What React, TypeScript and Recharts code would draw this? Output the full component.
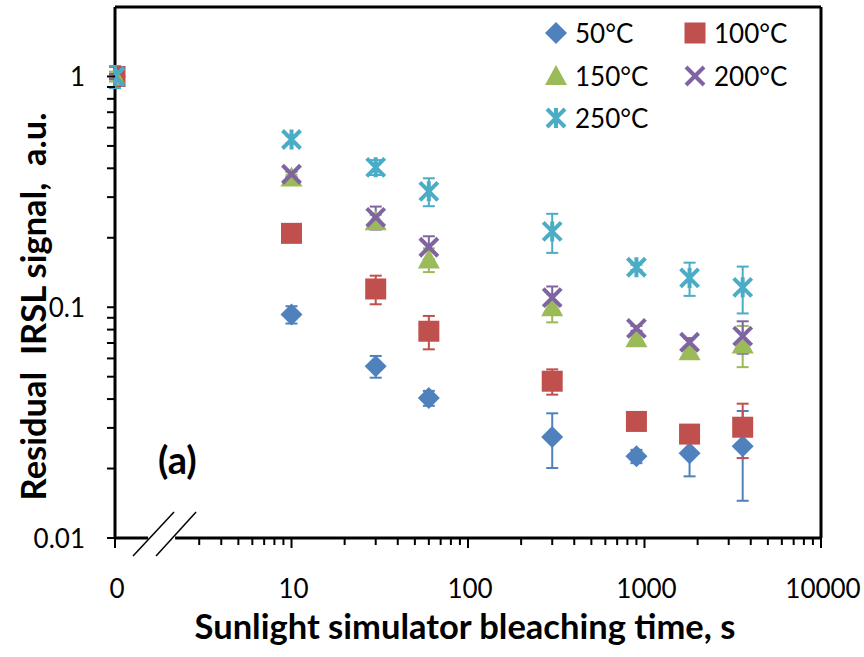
import { ErrorBar, ReferenceLine, Scatter, ScatterChart, XAxis, YAxis } from 'recharts';

const FONT = 'Lato, "Open Sans", sans-serif';

// bleaching times in seconds; t = 0 is drawn at the left end of the log axis
const TIMES = [0, 10, 30, 60, 300, 900, 1800, 3600];
const X_ORIGIN = 1;

const SIG_50 = [1, 0.093, 0.0555, 0.0404, 0.0274, 0.0226, 0.0233, 0.025];
const ERR_50 = [0.02, 0.008, 0.006, 0.003, 0.0073, 0.0015, 0.0048, 0.0105];
const SIG_100 = [1, 0.209, 0.12, 0.0787, 0.0478, 0.032, 0.0282, 0.0302];
const ERR_100 = [0.03, 0.004, 0.017, 0.013, 0.006, 0.001, 0.001, 0.008];
const SIG_150 = [1, 0.365, 0.236, 0.161, 0.1, 0.0734, 0.0645, 0.069];
const ERR_150 = [0.05, 0.01, 0.015, 0.019, 0.014, 0.002, 0.002, 0.014];
const SIG_200 = [1, 0.377, 0.245, 0.182, 0.11, 0.081, 0.0705, 0.0749];
const ERR_200 = [0.1, 0.01, 0.028, 0.021, 0.013, 0.002, 0.003, 0.012];
const SIG_250 = [1, 0.533, 0.404, 0.318, 0.213, 0.149, 0.134, 0.122];
const ERR_250 = [0.11, 0.02, 0.03, 0.044, 0.041, 0.004, 0.022, 0.028];

const X_MAJOR = [1, 10, 100, 1000, 10000];
const X_LABELS = ['0', '10', '100', '1000', '10000'];
const Y_MAJOR = [0.01, 0.1, 1];
const Y_LABELS = ['0.01', '0.1', '1'];

// minor ticks; the "2" tick on x is hidden by the axis break
const X_MINOR: number[] = [];
[1, 10, 100, 1000].forEach((d) => {
  for (let k = 2; k <= 9; k++) if (!(d === 1 && k === 2)) X_MINOR.push(d * k);
});
const Y_MINOR: number[] = [];
[0.01, 0.1].forEach((d) => {
  for (let k = 2; k <= 9; k++) Y_MINOR.push(+(d * k).toFixed(3));
});

type Kind = 'diamond' | 'square' | 'triangle' | 'x' | 'star';

const SERIES: { name: string; color: string; kind: Kind; sig: number[]; err: number[] }[] = [
  { name: '50°C', color: '#4F81BD', kind: 'diamond', sig: SIG_50, err: ERR_50 },
  { name: '100°C', color: '#C0504D', kind: 'square', sig: SIG_100, err: ERR_100 },
  { name: '150°C', color: '#9BBB59', kind: 'triangle', sig: SIG_150, err: ERR_150 },
  { name: '200°C', color: '#8064A2', kind: 'x', sig: SIG_200, err: ERR_200 },
  { name: '250°C', color: '#4BACC6', kind: 'star', sig: SIG_250, err: ERR_250 },
];

function Marker({ kind, cx, cy, color }: { kind: Kind; cx: number; cy: number; color: string }) {
  switch (kind) {
    case 'diamond':
      return <path d={`M${cx} ${cy - 11}L${cx + 11} ${cy}L${cx} ${cy + 11}L${cx - 11} ${cy}Z`} fill={color} />;
    case 'square':
      return <rect x={cx - 10.5} y={cy - 10.5} width={21} height={21} fill={color} />;
    case 'triangle':
      return <path d={`M${cx} ${cy - 11}L${cx + 11} ${cy + 9}L${cx - 11} ${cy + 9}Z`} fill={color} />;
    case 'x':
      return (
        <path
          d={`M${cx - 9} ${cy - 9}L${cx + 9} ${cy + 9}M${cx + 9} ${cy - 9}L${cx - 9} ${cy + 9}`}
          stroke={color}
          strokeWidth={4}
        />
      );
    default:
      return (
        <path
          d={`M${cx - 9} ${cy - 9}L${cx + 9} ${cy + 9}M${cx + 9} ${cy - 9}L${cx - 9} ${cy + 9}M${cx} ${cy - 10}L${cx} ${cy + 10}`}
          stroke={color}
          strokeWidth={4}
        />
      );
  }
}

function XTick({ x, y, payload }: any) {
  const i = X_MAJOR.indexOf(payload.value);
  return (
    <g>
      <line x1={x} x2={x} y1={y} y2={y + (i >= 0 ? 10 : 7)} stroke="#000" strokeWidth={2} />
      {i >= 0 && (
        <text x={x + 2} y={y + 60} textAnchor="middle" fontFamily={FONT} fontSize={26} fill="#000">
          {X_LABELS[i]}
        </text>
      )}
    </g>
  );
}

function YTick({ x, y, payload }: any) {
  const i = Y_MAJOR.indexOf(payload.value);
  return (
    <g>
      <line x1={x - 8} x2={x} y1={y} y2={y} stroke="#000" strokeWidth={2} />
      {i >= 0 && (
        <text x={x - 30} y={y + 10} textAnchor="end" fontFamily={FONT} fontSize={26} fill="#000">
          {Y_LABELS[i]}
        </text>
      )}
    </g>
  );
}

function XTitle({ viewBox }: any) {
  return (
    <text
      x={viewBox.x + viewBox.width / 2 - 3}
      y={viewBox.y + 101}
      textAnchor="middle"
      fontFamily={FONT}
      fontWeight={700}
      fontSize={34.5}
      fill="#000"
    >
      Sunlight simulator bleaching time, s
    </text>
  );
}

function YTitle({ viewBox }: any) {
  const cx = viewBox.x + 32;
  const cy = viewBox.y + viewBox.height / 2 + 34;
  return (
    <text
      x={cx}
      y={cy}
      transform={`rotate(-90, ${cx}, ${cy})`}
      textAnchor="middle"
      dominantBaseline="central"
      fontFamily={FONT}
      fontWeight={700}
      fontSize={34.5}
      fill="#000"
      style={{ whiteSpace: 'pre' }}
    >
      {'Residual  IRSL signal,  a.u.'}
    </text>
  );
}

function SeriesLegend() {
  return (
    <div
      style={{
        position: 'absolute',
        left: 544,
        top: 12,
        display: 'grid',
        gridTemplateColumns: '139px 139px',
        gridAutoRows: '42.5px',
        fontFamily: FONT,
        fontSize: 26,
        color: '#000',
      }}
    >
      {SERIES.map((s) => (
        <div key={s.name} style={{ display: 'flex', alignItems: 'center' }}>
          <svg width={24} height={24}>
            <Marker kind={s.kind} cx={12} cy={12} color={s.color} />
          </svg>
          <span style={{ marginLeft: 7 }}>{s.name}</span>
        </div>
      ))}
    </div>
  );
}

export default function App() {
  const frame = { stroke: '#000', strokeWidth: 3, ifOverflow: 'visible' as const };
  return (
    <div style={{ position: 'absolute', left: 0, top: 0, width: 864, height: 657, background: '#fff' }}>
      <ScatterChart width={864} height={657} margin={{ top: 7, right: 43, bottom: 0, left: 0 }}>
        <XAxis
          type="number"
          dataKey="x"
          scale="log"
          domain={[1, 10000]}
          allowDataOverflow
          ticks={[...X_MAJOR, ...X_MINOR]}
          interval={0}
          tick={<XTick />}
          tickLine={false}
          tickSize={0}
          tickMargin={0}
          axisLine={false}
          height={119}
          label={{ content: <XTitle /> }}
        />
        <YAxis
          type="number"
          dataKey="y"
          scale="log"
          domain={[0.01, 2]}
          allowDataOverflow
          ticks={[...Y_MAJOR, ...Y_MINOR]}
          interval={0}
          tick={<YTick />}
          tickLine={false}
          tickSize={0}
          tickMargin={0}
          axisLine={false}
          width={115}
          label={{ content: <YTitle /> }}
        />
        {/* plot frame, bottom edge broken near the origin */}
        <ReferenceLine x={1} {...frame} />
        <ReferenceLine x={10000} {...frame} />
        <ReferenceLine y={2} {...frame} />
        <ReferenceLine segment={[{ x: 1, y: 0.01 }, { x: 1.54, y: 0.01 }]} {...frame} />
        <ReferenceLine segment={[{ x: 2.19, y: 0.01 }, { x: 10000, y: 0.01 }]} {...frame} />
        <ReferenceLine
          segment={[{ x: 1.265, y: 0.00835 }, { x: 2.16, y: 0.01297 }]}
          stroke="#000"
          strokeWidth={1.5}
          ifOverflow="visible"
        />
        <ReferenceLine
          segment={[{ x: 1.708, y: 0.00835 }, { x: 2.88, y: 0.01297 }]}
          stroke="#000"
          strokeWidth={1.5}
          ifOverflow="visible"
        />
        {SERIES.map((s) => (
          <Scatter
            key={s.name}
            name={s.name}
            data={TIMES.map((t, i) => ({ x: t === 0 ? X_ORIGIN : t, y: s.sig[i], e: s.err[i] }))}
            fill={s.color}
            isAnimationActive={false}
            shape={(p: any) => <Marker kind={s.kind} cx={p.cx} cy={p.cy} color={s.color} />}
          >
            <ErrorBar dataKey="e" direction="y" width={6} strokeWidth={2} stroke={s.color} />
          </Scatter>
        ))}
      </ScatterChart>
      <SeriesLegend />
      <div
        style={{
          position: 'absolute',
          left: 158,
          top: 440,
          fontFamily: FONT,
          fontWeight: 700,
          fontSize: 38,
          lineHeight: 1,
          color: '#000',
        }}
      >
        (a)
      </div>
    </div>
  );
}
